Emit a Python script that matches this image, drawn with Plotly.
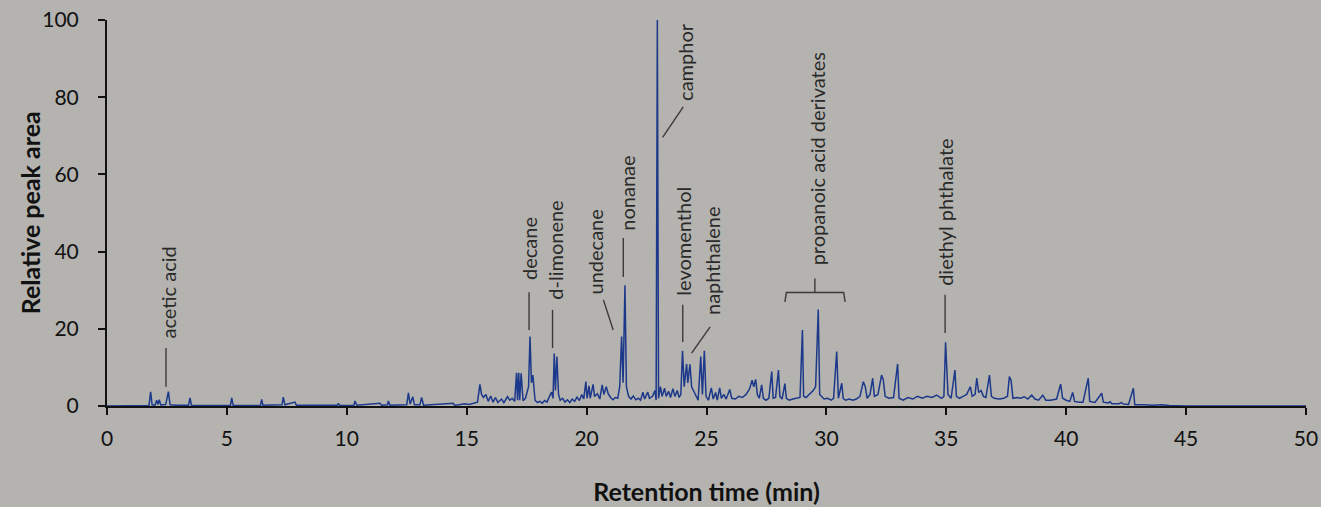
import plotly.graph_objects as go

# Chromatogram vertices (retention time in min, relative peak area)
rt = [
    0.0, 1.75, 1.82, 1.88, 2.0, 2.07, 2.12, 2.18, 2.24, 2.45, 2.56, 2.63, 2.9, 3.4, 3.46, 3.52,
    4.5, 5.15, 5.2, 5.26, 6.0, 6.4, 6.45, 6.5, 7.3, 7.35, 7.42, 7.84, 7.9, 9.6, 9.65, 9.7,
    10.3, 10.34, 10.42, 11.38, 11.45, 11.7, 11.73, 11.8, 12.5, 12.57, 12.64, 12.75, 12.82,
    13.05, 13.12, 13.2, 14.43, 14.5, 14.7, 14.9, 15.1, 15.3, 15.45,
    15.55, 15.62, 15.7, 15.8, 15.9, 16.0, 16.1, 16.2, 16.3, 16.45, 16.55, 16.7, 16.8, 16.9, 17.0,
    17.08, 17.12, 17.17, 17.21, 17.27, 17.35, 17.45, 17.58, 17.64, 17.7, 17.76, 17.85, 17.95,
    18.05, 18.15, 18.25, 18.35, 18.45, 18.54, 18.6, 18.65, 18.7, 18.76, 18.83, 18.9, 19.0,
    19.1, 19.2, 19.3, 19.4, 19.5, 19.6, 19.7, 19.8, 19.88, 19.97, 20.02, 20.1, 20.15, 20.27,
    20.33, 20.45, 20.55, 20.65, 20.72, 20.82, 20.9, 21.0, 21.1, 21.2, 21.3, 21.38, 21.46,
    21.52, 21.6, 21.66, 21.75, 21.85, 21.95, 22.05, 22.15, 22.25, 22.35, 22.42, 22.55, 22.62,
    22.75, 22.85, 22.9, 22.95, 23.0, 23.08, 23.15, 23.25, 23.32, 23.42, 23.5, 23.6, 23.68,
    23.78, 23.86, 23.93, 24.0, 24.07, 24.17, 24.22, 24.31, 24.38, 24.45, 24.55, 24.65, 24.76,
    24.83, 24.91, 24.98, 25.08, 25.2, 25.28, 25.38, 25.45, 25.55, 25.62, 25.72, 25.82, 25.97,
    26.05, 26.2, 26.35, 26.5, 26.65, 26.8, 26.9, 26.97, 27.05, 27.12, 27.2, 27.3, 27.37, 27.48,
    27.6, 27.72, 27.78, 27.88, 28.0, 28.06, 28.15, 28.27, 28.33, 28.45, 28.6, 28.75, 28.9, 29.0,
    29.05, 29.15, 29.3, 29.45, 29.55, 29.66, 29.72, 29.8, 29.9, 30.05, 30.2, 30.3, 30.43, 30.5,
    30.64, 30.7, 30.8, 30.95, 31.1, 31.25, 31.4, 31.54, 31.62, 31.7, 31.82, 31.93, 32.0, 32.15,
    32.3, 32.37, 32.45, 32.6, 32.8, 32.97, 33.03, 33.2, 33.4, 33.6, 33.8, 34.0, 34.2, 34.4, 34.6,
    34.8, 34.9, 34.97, 35.01, 35.07, 35.2, 35.36, 35.42, 35.55, 35.7, 35.85, 36.0, 36.08, 36.2,
    36.27, 36.35, 36.45, 36.55, 36.65, 36.8, 36.88, 37.0, 37.2, 37.4, 37.55, 37.63, 37.7, 37.78,
    37.95, 38.1, 38.25, 38.4, 38.56, 38.7, 38.85, 39.02, 39.15, 39.35, 39.6, 39.77, 39.85, 40.0,
    40.15, 40.27, 40.35, 40.55, 40.7, 40.92, 40.98, 41.2, 41.48, 41.55, 41.75, 41.83, 41.9,
    42.2, 42.3, 42.38, 42.6, 42.8, 42.86, 43.2, 43.6, 44.0, 44.3, 45.0, 50.0,
]
area = [
    0.0, 0.1, 3.7, 0.3, 0.2, 1.5, 0.4, 1.6, 0.3, 0.4, 3.7, 0.3, 0.2, 0.2, 2.1, 0.2,
    0.1, 0.2, 2.1, 0.2, 0.1, 0.2, 1.7, 0.2, 0.3, 2.3, 0.3, 1.0, 0.2, 0.2, 0.7, 0.1,
    0.2, 1.3, 0.2, 0.7, 0.2, 0.3, 1.3, 0.2, 0.3, 3.4, 0.5, 2.4, 0.3,
    0.3, 2.2, 0.2, 0.7, 0.2, 0.3, 0.6, 0.4, 0.8, 1.0,
    5.6, 3.0, 2.2, 3.0, 1.2, 2.6, 1.0, 2.2, 0.9, 1.8, 0.9, 2.4, 1.5, 2.0, 1.2,
    8.6, 1.5, 8.6, 1.5, 8.5, 1.4, 2.0, 5.0, 18.0, 6.0, 8.0, 1.5, 0.9,
    1.2, 0.7, 1.4, 1.0, 2.5, 3.6, 2.0, 13.6, 4.0, 12.8, 3.0, 1.5, 2.0,
    1.0, 1.6, 0.9, 1.8, 1.2, 2.3, 1.4, 3.0, 1.8, 6.3, 2.0, 5.2, 2.0, 5.6,
    2.5, 3.2, 1.8, 5.5, 3.0, 5.0, 3.2, 2.2, 1.6, 2.2, 2.0, 5.0, 18.0,
    6.0, 31.3, 5.0, 2.5, 1.8, 2.6, 1.6, 2.0, 1.5, 3.6, 1.8, 3.6, 2.0,
    2.5, 4.0, 1.5, 100.0, 2.0, 5.0, 2.5, 4.6, 2.5, 3.8, 2.2, 4.5, 2.5,
    4.0, 2.2, 3.0, 14.3, 5.0, 10.9, 6.0, 10.8, 5.0, 4.0, 2.5, 1.5, 12.8,
    3.0, 14.3, 2.5, 1.5, 4.7, 1.8, 3.5, 1.5, 4.7, 2.0, 3.0, 1.8, 4.3,
    2.0, 1.8, 2.5, 2.2, 3.0, 4.5, 6.7, 5.0, 6.9, 3.0, 2.0, 5.5, 2.0, 1.5,
    2.0, 8.9, 2.0, 2.2, 9.3, 2.5, 1.8, 5.8, 2.0, 1.5, 1.8, 2.0, 2.2, 19.7,
    2.5, 2.2, 3.0, 4.0, 5.0, 25.0, 3.0, 2.5, 1.8, 2.0, 1.5, 2.0, 14.1, 2.0,
    5.9, 2.0, 1.5, 1.8, 1.5, 1.8, 2.5, 6.3, 5.0, 2.0, 3.0, 7.2, 2.5, 3.0,
    8.0, 6.8, 2.5, 2.0, 2.2, 10.9, 2.0, 1.5, 2.2, 1.8, 2.5, 2.0, 2.5, 2.2, 2.8,
    2.0, 2.5, 16.5, 12.0, 3.0, 2.0, 9.3, 2.5, 2.0, 2.5, 3.0, 5.0, 2.5, 3.0,
    7.2, 3.5, 4.0, 2.5, 2.2, 8.0, 2.5, 2.0, 1.8, 2.0, 2.5, 7.6, 6.7, 2.0,
    2.2, 2.0, 2.4, 1.8, 2.8, 1.8, 1.5, 2.8, 1.5, 1.5, 1.8, 5.7, 2.0, 1.5,
    1.2, 3.5, 1.2, 1.0, 1.0, 7.2, 1.2, 0.9, 3.3, 1.0, 0.8, 1.1, 0.6,
    0.6, 0.9, 0.5, 0.4, 4.6, 0.3, 0.3, 0.2, 0.3, 0.1, 0.0, 0.0,
]

# Compound labels
label_text = ["acetic acid", "decane", "d-limonene", "undecane", "nonanae", "camphor",
              "levomenthol", "naphthalene", "propanoic acid derivates", "diethyl phthalate"]

x_ticks = [0, 5, 10, 15, 20, 25, 30, 35, 40, 45, 50]
y_ticks = [0, 20, 40, 60, 80, 100]

BG = "#b4b3af"
LINE = "#1c388a"
TXT = "#2a2a2a"

fig = go.Figure()
fig.add_trace(go.Scatter(x=rt, y=area, mode="lines",
                         line=dict(color=LINE, width=1.5), hoverinfo="skip",
                         showlegend=False))

# label placement: (text x, text bottom y, leader line x0,y0,x1,y1)
placement = [
    (2.55, 17.0, 2.46, 5.0, 2.46, 15.0),
    (17.6, 32.0, 17.6, 19.7, 17.6, 29.5),
    (18.7, 27.0, 18.58, 15.0, 18.58, 24.9),
    (20.35, 28.5, 21.11, 19.7, 20.7, 27.5),
    (21.68, 45.0, 21.53, 33.4, 21.53, 43.5),
    (24.1, 78.5, 23.17, 69.6, 24.03, 77.5),
    (24.03, 28.0, 24.01, 16.6, 24.01, 26.2),
    (25.2, 23.0, 24.38, 13.7, 25.15, 20.5),
    (29.6, 36.0, None, None, None, None),
    (34.95, 30.5, 34.95, 18.9, 34.95, 28.8),
]
for name, (tx, ty, lx0, ly0, lx1, ly1) in zip(label_text, placement):
    fig.add_annotation(x=tx, y=ty, xref="x", yref="y", text=name, textangle=-90,
                       showarrow=False, xanchor="center", yanchor="bottom",
                       font=dict(family="Lato", size=20, color=TXT))
    if lx0 is not None:
        fig.add_shape(type="line", x0=lx0, y0=ly0, x1=lx1, y1=ly1, xref="x", yref="y",
                      line=dict(color="#3a3a3a", width=1.4))

# bracket for propanoic acid derivates
fig.add_shape(type="path", xref="x", yref="y",
              path="M 28.27 27.0 L 28.33 29.4 L 30.72 29.4 L 30.78 27.0",
              line=dict(color="#3a3a3a", width=1.4))
fig.add_shape(type="line", xref="x", yref="y", x0=29.52, y0=29.4, x1=29.52, y1=33.0,
              line=dict(color="#3a3a3a", width=1.4))

axis_font = dict(family="Lato", size=21, color="#111111")
title_font = dict(family="Lato", size=25, color="#111111")

# y-axis title as a rotated annotation centred beside the axis
fig.add_annotation(x=-0.064, y=0.5, xref="paper", yref="paper",
                   text="<b>Relative peak area</b>", textangle=-90, showarrow=False,
                   xanchor="center", yanchor="middle", font=title_font)

fig.update_xaxes(range=[0, 50], tickvals=x_ticks, ticks="outside", ticklen=7, tickwidth=2,
                 tickcolor="#111111", showline=True, linecolor="#111111", linewidth=2,
                 showgrid=False, zeroline=False, tickfont=axis_font, ticklabelstandoff=6,
                 automargin=False,
                 title=dict(text="<b>Retention time (min)</b>", font=title_font, standoff=34))
fig.update_yaxes(range=[0, 100], tickvals=y_ticks, ticks="outside", ticklen=7, tickwidth=2,
                 tickcolor="#111111", showline=True, linecolor="#111111", linewidth=2,
                 showgrid=False, zeroline=False, tickfont=axis_font, ticklabelstandoff=15,
                 automargin=False)
fig.update_layout(
    width=1321, height=507, autosize=False,
    margin=dict(l=107, r=15, t=20, b=101),
    paper_bgcolor=BG, plot_bgcolor=BG,
    xaxis_tickprefix="<b>", xaxis_ticksuffix="</b>",
    yaxis_tickprefix="<b>", yaxis_ticksuffix="</b>",
)
fig.write_html("out.html",
               config={"responsive": False, "displayModeBar": False},
               default_width="1321px", default_height="507px",
               post_script="document.body.style.margin='0';document.body.style.overflow='hidden';")
